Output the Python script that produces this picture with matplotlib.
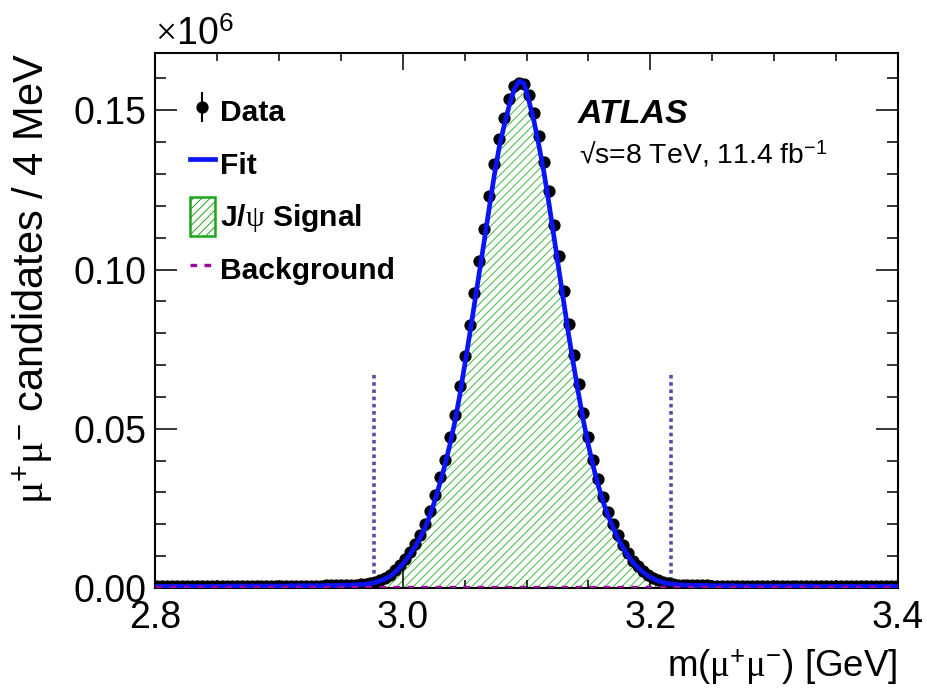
import matplotlib
matplotlib.use('Agg')
import matplotlib.pyplot as plt
import numpy as np
from matplotlib.patches import Patch
from matplotlib.ticker import MultipleLocator, FormatStrFormatter

plt.rcParams['font.family'] = ['Liberation Sans', 'DejaVu Sans']
plt.rcParams['mathtext.fontset'] = 'custom'
plt.rcParams['mathtext.rm'] = 'Liberation Serif'
plt.rcParams['mathtext.it'] = 'Liberation Serif:italic'
plt.rcParams['mathtext.sf'] = 'Liberation Sans'
plt.rcParams['mathtext.bf'] = 'Liberation Sans:bold'
plt.rcParams['hatch.linewidth'] = 0.7

# dimuon mass histogram, 4 MeV bins from 2.8 to 3.4 GeV (counts in units of 1e6)
bin_lo, bin_hi, bin_w = 2.8, 3.4, 0.004
data = [
    0.0005, 0.0005, 0.0005, 0.0005, 0.0005, 0.0005, 0.0005, 0.0005, 0.0005, 0.0005,
    0.0005, 0.0005, 0.0005, 0.0005, 0.0006, 0.0006, 0.0006, 0.0006, 0.0006, 0.0006,
    0.0006, 0.0006, 0.0006, 0.0006, 0.0006, 0.0006, 0.0006, 0.0007, 0.0007, 0.0007,
    0.0007, 0.0007, 0.0007, 0.0007, 0.0008, 0.0008, 0.0008, 0.0008, 0.0009, 0.0009,
    0.0010, 0.0011, 0.0012, 0.0015, 0.0019, 0.0024, 0.0031, 0.0041, 0.0055, 0.0072,
    0.0090, 0.0114, 0.0138, 0.0168, 0.0201, 0.0242, 0.0292, 0.0347, 0.0401, 0.0474,
    0.0543, 0.0635, 0.0730, 0.0827, 0.0927, 0.1028, 0.1128, 0.1232, 0.1331, 0.1410,
    0.1476, 0.1535, 0.1577, 0.1587, 0.1583, 0.1548, 0.1493, 0.1418, 0.1339, 0.1248,
    0.1141, 0.1044, 0.0934, 0.0830, 0.0733, 0.0642, 0.0551, 0.0474, 0.0401, 0.0342,
    0.0286, 0.0239, 0.0201, 0.0166, 0.0135, 0.0109, 0.0086, 0.0069, 0.0054, 0.0042,
    0.0032, 0.0025, 0.0019, 0.0015, 0.0012, 0.0010, 0.0009, 0.0009, 0.0008, 0.0008,
    0.0008, 0.0008, 0.0007, 0.0007, 0.0007, 0.0007, 0.0007, 0.0007, 0.0006, 0.0006,
    0.0006, 0.0006, 0.0006, 0.0006, 0.0006, 0.0006, 0.0006, 0.0006, 0.0006, 0.0006,
    0.0006, 0.0006, 0.0006, 0.0005, 0.0005, 0.0005, 0.0005, 0.0005, 0.0005, 0.0005,
    0.0005, 0.0005, 0.0005, 0.0005, 0.0005, 0.0005, 0.0005, 0.0005, 0.0005, 0.0005,
]

# total fit evaluated at the bin centres
fit = [
    0.0005, 0.0005, 0.0005, 0.0005, 0.0005, 0.0005, 0.0005, 0.0005, 0.0005, 0.0005,
    0.0005, 0.0005, 0.0005, 0.0005, 0.0006, 0.0006, 0.0006, 0.0006, 0.0006, 0.0006,
    0.0006, 0.0006, 0.0006, 0.0006, 0.0006, 0.0006, 0.0006, 0.0007, 0.0007, 0.0007,
    0.0007, 0.0007, 0.0007, 0.0007, 0.0008, 0.0008, 0.0008, 0.0008, 0.0009, 0.0009,
    0.0010, 0.0011, 0.0012, 0.0014, 0.0018, 0.0023, 0.0029, 0.0037, 0.0050, 0.0066,
    0.0084, 0.0106, 0.0130, 0.0157, 0.0189, 0.0228, 0.0274, 0.0328, 0.0384, 0.0448,
    0.0519, 0.0603, 0.0697, 0.0793, 0.0892, 0.0993, 0.1093, 0.1196, 0.1296, 0.1385,
    0.1453, 0.1514, 0.1565, 0.1592, 0.1585, 0.1529, 0.1467, 0.1390, 0.1307, 0.1211,
    0.1107, 0.1005, 0.0898, 0.0796, 0.0701, 0.0610, 0.0524, 0.0448, 0.0380, 0.0322,
    0.0269, 0.0226, 0.0189, 0.0155, 0.0126, 0.0101, 0.0080, 0.0064, 0.0050, 0.0038,
    0.0030, 0.0023, 0.0018, 0.0014, 0.0012, 0.0010, 0.0009, 0.0009, 0.0008, 0.0008,
    0.0008, 0.0008, 0.0007, 0.0007, 0.0007, 0.0007, 0.0007, 0.0007, 0.0006, 0.0006,
    0.0006, 0.0006, 0.0006, 0.0006, 0.0006, 0.0006, 0.0006, 0.0006, 0.0006, 0.0006,
    0.0006, 0.0006, 0.0006, 0.0005, 0.0005, 0.0005, 0.0005, 0.0005, 0.0005, 0.0005,
    0.0005, 0.0005, 0.0005, 0.0005, 0.0005, 0.0005, 0.0005, 0.0005, 0.0005, 0.0005,
]

# background component (nearly flat, close to zero)
bkg_x = [2.8, 2.9, 3.0, 3.1, 3.2, 3.3, 3.4]
bkg_y = [0.0002, 0.0002, 0.0002, 0.0002, 0.0002, 0.0002, 0.0002]

# signal mass window
window_x = [2.977, 3.217]
window_top = 0.0675

centers = np.arange(len(data)) * bin_w + bin_lo + bin_w / 2

fig = plt.figure(figsize=(9.28, 6.9), dpi=100)
ax = fig.add_axes([155 / 928, 102 / 690, 743 / 928, 535 / 690])

sig_col = '#3cb83c'
ax.fill_between(centers, 0, fit, facecolor='none', edgecolor=sig_col,
                hatch='////', linewidth=0, zorder=1)
ax.vlines(window_x, 0, window_top, colors='#5050a8', linestyles=(0, (1, 1)),
          linewidth=2.6, zorder=2)
data_h = ax.errorbar(centers, data, yerr=0, fmt='o', color='black', ms=7.8,
                     elinewidth=1.5, capsize=0, zorder=3)
fit_h, = ax.plot(centers, fit, color='#0a14f5', lw=3.4, zorder=4)
bkg_h, = ax.plot(bkg_x, bkg_y, color='#9a0a9a', lw=2.4, ls=(0, (2.0, 2.2)), zorder=5)

ax.set_xlim(bin_lo, bin_hi)
ax.set_ylim(0, 0.168)

ax.xaxis.set_major_locator(MultipleLocator(0.2))
ax.xaxis.set_minor_locator(MultipleLocator(0.05))
ax.yaxis.set_major_locator(MultipleLocator(0.05))
ax.yaxis.set_minor_locator(MultipleLocator(0.01))
ax.xaxis.set_major_formatter(FormatStrFormatter('%.1f'))
ax.yaxis.set_major_formatter(FormatStrFormatter('%.2f'))

ax.tick_params(which='both', direction='in', top=True, right=True,
               width=1.1, labelsize=27)
ax.tick_params(axis='x', which='major', length=12, pad=9)
ax.tick_params(axis='x', which='minor', length=6)
ax.tick_params(axis='y', which='major', length=16, pad=6)
ax.tick_params(axis='y', which='minor', length=8)
for sp in ax.spines.values():
    sp.set_linewidth(1.5)

ax.set_ylabel(r'$\mathrm{\mu^{\mathsf{+}}\mu^{\mathsf{-}}}$ candidates / 4 MeV',
              fontsize=30, loc='top')
ax.yaxis.set_label_coords(-0.134, 1.0)
ax.text(1.0, (588 - 677) / 535, r'm($\mathrm{\mu^{\mathsf{+}}\mu^{\mathsf{-}}}$) [GeV]',
        transform=ax.transAxes, ha='right', va='baseline', fontsize=26.5)
fig.text(155 / 928, 1 - 45 / 690, r'$\times$10$^{\mathsf{6}}$', fontsize=27,
         ha='left', va='baseline')

ax.text((578 - 155) / 743, (588 - 123) / 535, 'ATLAS', transform=ax.transAxes,
        fontsize=24.5, fontweight='bold', fontstyle='italic', va='baseline')
ax.text((579 - 155) / 743, (588 - 163) / 535, '√s=8 TeV, 11.4 fb$^{\\mathsf{-1}}$',
        transform=ax.transAxes, fontsize=20.4, va='baseline')

sig_h = Patch(facecolor='none', edgecolor='#1aa51a', hatch='////', lw=1.8)
ax.legend([data_h, fit_h, sig_h, bkg_h],
          ['Data', 'Fit', r'J/$\mathrm{\psi}$ Signal', 'Background'],
          loc='upper left', bbox_to_anchor=((190 - 155) / 743, (588 - 92) / 535),
          frameon=False, borderpad=0, borderaxespad=0,
          handlelength=0.83, handleheight=1.6, handletextpad=0.17,
          labelspacing=0.47, prop={'weight': 'bold', 'size': 21.6})

fig.savefig('out.png', dpi=100)
